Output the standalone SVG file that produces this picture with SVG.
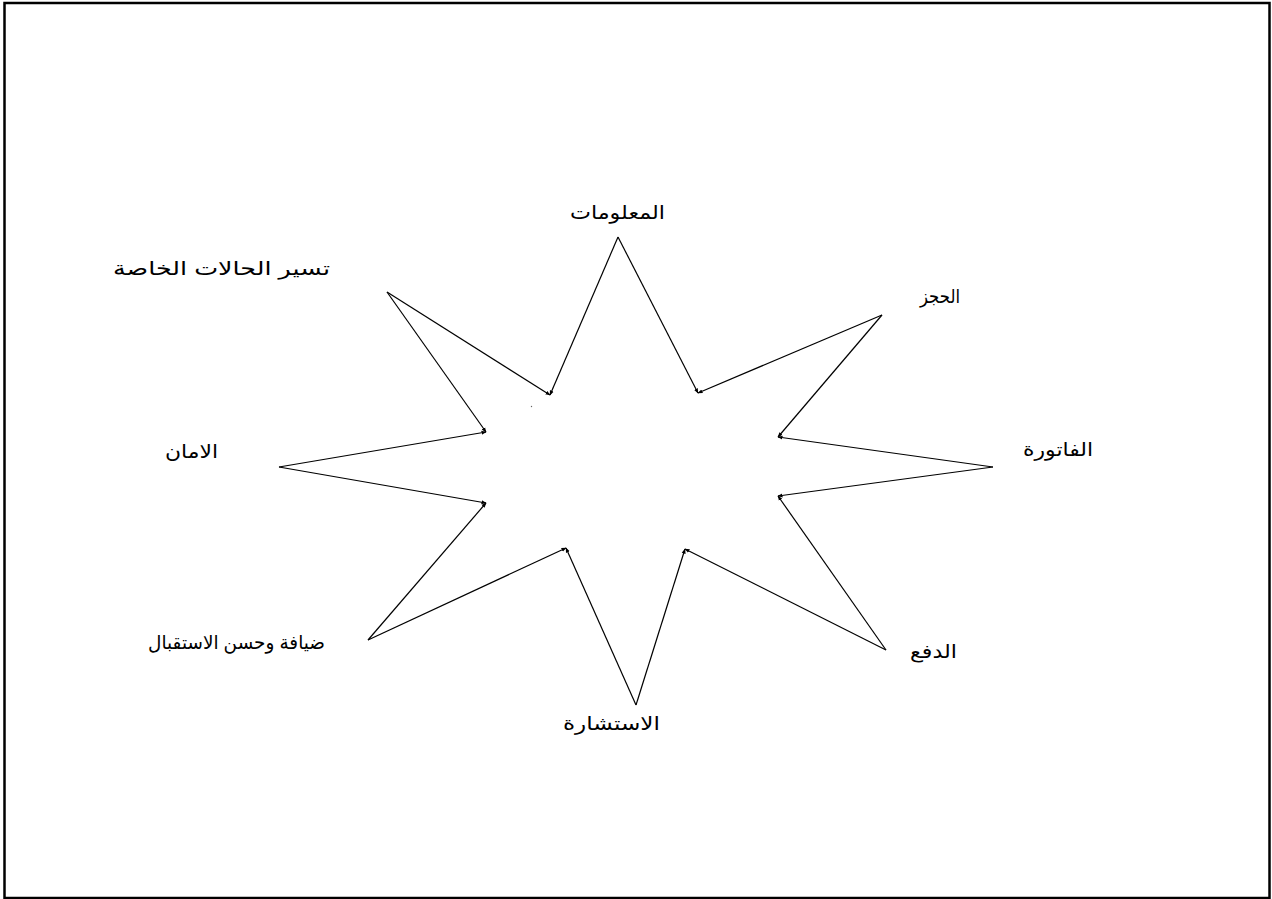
<svg xmlns="http://www.w3.org/2000/svg" width="1272" height="899" viewBox="0 0 1272 899">
<style>
.lbl{font-family:"Liberation Sans","DejaVu Sans",Arial,sans-serif;font-size:19px;fill:#000;text-anchor:middle;direction:rtl}
.edge{stroke:#000;stroke-width:1.2;fill:none}
</style>
<defs>
<marker id="ah" viewBox="0 0 10 10" refX="9" refY="5" markerWidth="5" markerHeight="5" orient="auto" markerUnits="userSpaceOnUse">
<path d="M0,1 L10,5 L0,9 z" fill="#000"/>
</marker>
</defs>
<rect x="4.5" y="3" width="1265" height="895" fill="#fff" stroke="#000" stroke-width="2.5"/>
<g id="connectors">
<line class="edge" x1="618" y1="237" x2="550" y2="395" marker-end="url(#ah)"/>
<line class="edge" x1="618" y1="237" x2="698" y2="393" marker-end="url(#ah)"/>
<line class="edge" x1="882" y1="315" x2="698" y2="393" marker-end="url(#ah)"/>
<line class="edge" x1="882" y1="315" x2="778" y2="437" marker-end="url(#ah)"/>
<line class="edge" x1="993" y1="467" x2="778" y2="437" marker-end="url(#ah)"/>
<line class="edge" x1="993" y1="467" x2="778" y2="496" marker-end="url(#ah)"/>
<line class="edge" x1="886" y1="650" x2="778" y2="496" marker-end="url(#ah)"/>
<line class="edge" x1="886" y1="650" x2="685" y2="549" marker-end="url(#ah)"/>
<line class="edge" x1="636" y1="705" x2="685" y2="549" marker-end="url(#ah)"/>
<line class="edge" x1="636" y1="705" x2="566" y2="548" marker-end="url(#ah)"/>
<line class="edge" x1="368" y1="640" x2="566" y2="548" marker-end="url(#ah)"/>
<line class="edge" x1="368" y1="640" x2="486" y2="503" marker-end="url(#ah)"/>
<line class="edge" x1="279" y1="467" x2="486" y2="503" marker-end="url(#ah)"/>
<line class="edge" x1="279" y1="467" x2="486" y2="432" marker-end="url(#ah)"/>
<line class="edge" x1="387" y1="292" x2="486" y2="432" marker-end="url(#ah)"/>
<line class="edge" x1="387" y1="292" x2="550" y2="395" marker-end="url(#ah)"/>
<circle cx="531.5" cy="406.5" r="0.7" fill="#666"/>
</g>
<g id="n-info"><text class="lbl" x="617.5" y="219" textLength="95" lengthAdjust="spacingAndGlyphs">المعلومات</text></g>
<g id="n-booking"><text class="lbl" x="940" y="303" textLength="40" lengthAdjust="spacingAndGlyphs">الحجز</text></g>
<g id="n-invoice"><text class="lbl" x="1058" y="456" textLength="70" lengthAdjust="spacingAndGlyphs">الفاتورة</text></g>
<g id="n-payment"><text class="lbl" x="933.5" y="658" textLength="47" lengthAdjust="spacingAndGlyphs">الدفع</text></g>
<g id="n-consult"><text class="lbl" x="611.5" y="730" textLength="97" lengthAdjust="spacingAndGlyphs">الاستشارة</text></g>
<g id="n-hospitality"><text class="lbl" x="236.5" y="649" textLength="177" lengthAdjust="spacingAndGlyphs">ضيافة وحسن الاستقبال</text></g>
<g id="n-security"><text class="lbl" x="191.5" y="458" textLength="53" lengthAdjust="spacingAndGlyphs">الامان</text></g>
<g id="n-special"><text class="lbl" x="221.5" y="275" textLength="217" lengthAdjust="spacingAndGlyphs">تسير الحالات الخاصة</text></g>
</svg>
